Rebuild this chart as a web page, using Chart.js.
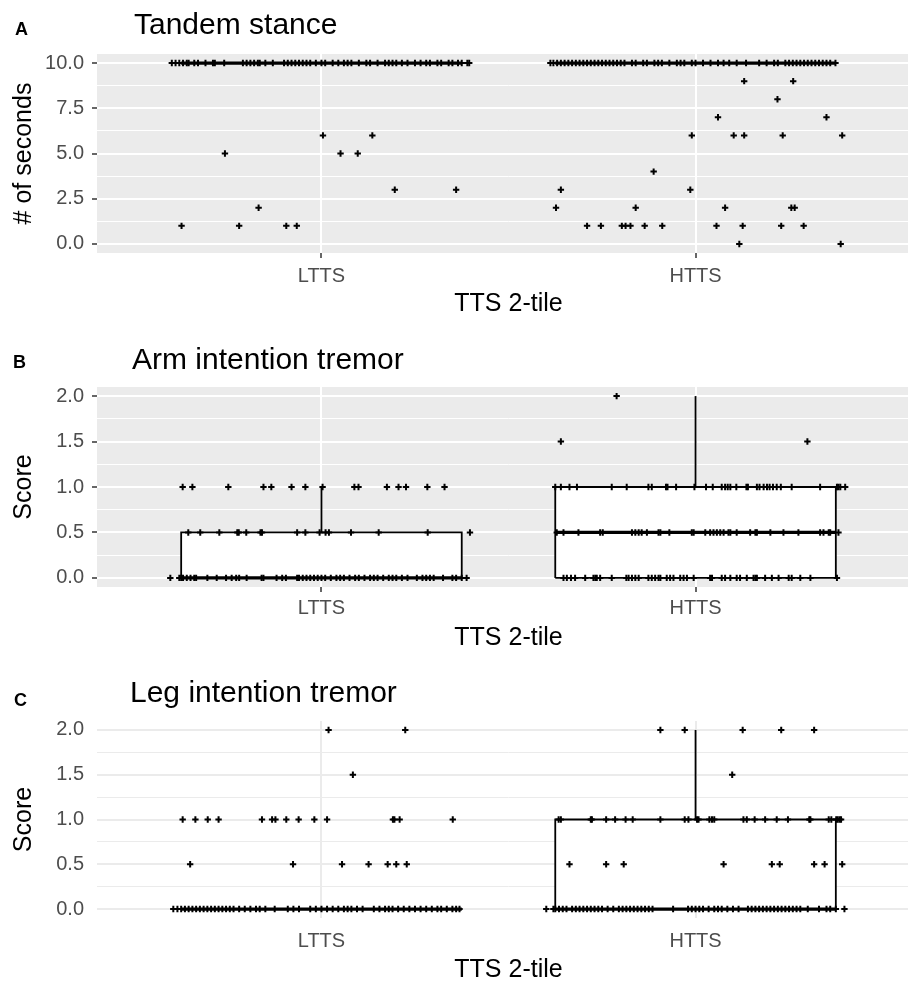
<!DOCTYPE html>
<html>
<head>
<meta charset="utf-8">
<script src="https://cdn.jsdelivr.net/npm/chart.js@4.4.1/dist/chart.umd.min.js"></script>
<style>
  html, body { margin: 0; padding: 0; background: #fff; overflow: hidden; width: 908px; height: 984px; }
  .panel { position: absolute; left: 0; }
</style>
</head>
<body>
<canvas id="chartA" class="panel" style="top:0px" width="930" height="318"></canvas>
<canvas id="chartB" class="panel" style="top:318px" width="930" height="334"></canvas>
<canvas id="chartC" class="panel" style="top:652px" width="930" height="332"></canvas>
<script>
const categories = ['LTTS', 'HTTS'];

const secondsTicks = [0, 2.5, 5, 7.5, 10];
const secondsMinor = [1.25, 3.75, 6.25, 8.75];
const scoreTicks = [0, 0.5, 1, 1.5, 2];
const scoreMinor = [0.25, 0.75, 1.25, 1.75];

// box stats per group: lower whisker, q1, median, q3, upper whisker
const tandemBoxes = [[10, 10, 10, 10, 10], [10, 10, 10, 10, 10]];
const armBoxes = [[0, 0, 0, 0.5, 1], [0, 0, 0.5, 1, 2]];
const legBoxes = [[0, 0, 0, 0, 0], [0, 0, 0, 1, 2]];

// each row: the jitter offsets of the points sitting at that value
const tandemValues = [10, 9, 8, 7, 6, 5, 4, 3, 2, 1, 0];
const tandemLttsJitter = [
  [-0.40, -0.39, -0.38, -0.37, -0.36, -0.355, -0.34, -0.33, -0.31, -0.29, -0.285, -0.26, -0.21, -0.20, -0.19, -0.18, -0.17, -0.165, -0.15, -0.13, -0.10, -0.09, -0.08, -0.07, -0.06, -0.05, -0.04, -0.03, -0.015, 0.0, 0.01, 0.03, 0.045, 0.06, 0.07, 0.08, 0.10, 0.12, 0.13, 0.15, 0.17, 0.18, 0.19, 0.20, 0.215, 0.23, 0.25, 0.265, 0.28, 0.29, 0.31, 0.32, 0.34, 0.35, 0.365, 0.375, 0.39, 0.395],
  [], [], [],
  [0.004, 0.136],
  [-0.258, 0.051, 0.097],
  [],
  [0.196, 0.360],
  [-0.168],
  [-0.374, -0.220, -0.094, -0.066],
  []
];
const tandemHttsJitter = [
  [-0.388, -0.38, -0.37, -0.36, -0.35, -0.34, -0.33, -0.32, -0.31, -0.30, -0.29, -0.28, -0.27, -0.26, -0.25, -0.24, -0.23, -0.22, -0.21, -0.20, -0.19, -0.17, -0.16, -0.14, -0.13, -0.11, -0.10, -0.09, -0.07, -0.05, -0.04, -0.03, -0.01, 0.0, 0.02, 0.04, 0.06, 0.075, 0.09, 0.11, 0.135, 0.17, 0.19, 0.21, 0.22, 0.24, 0.25, 0.26, 0.27, 0.28, 0.29, 0.30, 0.31, 0.32, 0.33, 0.34, 0.35, 0.36, 0.374],
  [0.130, 0.261],
  [0.219],
  [0.060, 0.350],
  [-0.010, 0.102, 0.130, 0.233, 0.392],
  [],
  [-0.112],
  [-0.360, -0.014],
  [-0.373, -0.160, 0.079, 0.256, 0.265],
  [-0.290, -0.253, -0.197, -0.187, -0.174, -0.136, -0.089, 0.056, 0.126, 0.229, 0.289],
  [0.117, 0.388]
];

const scoreValues = [2, 1.5, 1, 0.5, 0];
const armLttsJitter = [
  [],
  [],
  [-0.371, -0.345, -0.249, -0.155, -0.134, -0.080, -0.043, 0.003, 0.088, 0.099, 0.175, 0.206, 0.226, 0.283, 0.329],
  [-0.356, -0.324, -0.273, -0.225, -0.221, -0.201, -0.163, -0.159, -0.065, -0.043, -0.005, 0.011, 0.020, 0.079, 0.153, 0.284, 0.397],
  [-0.404, -0.38, -0.375, -0.37, -0.36, -0.35, -0.34, -0.335, -0.305, -0.28, -0.255, -0.24, -0.228, -0.22, -0.20, -0.16, -0.155, -0.12, -0.105, -0.095, -0.065, -0.06, -0.05, -0.04, -0.03, -0.02, -0.01, 0.0, 0.01, 0.025, 0.04, 0.05, 0.06, 0.075, 0.09, 0.10, 0.115, 0.13, 0.14, 0.15, 0.165, 0.18, 0.19, 0.20, 0.215, 0.23, 0.255, 0.27, 0.28, 0.29, 0.30, 0.325, 0.35, 0.36, 0.375, 0.388]
];
const armHttsJitter = [
  [-0.211],
  [-0.360, 0.299],
  [-0.375, -0.360, -0.337, -0.317, -0.224, -0.184, -0.126, -0.117, -0.079, -0.075, -0.052, -0.003, 0.028, 0.046, 0.070, 0.079, 0.086, 0.093, 0.109, 0.136, 0.140, 0.164, 0.171, 0.182, 0.191, 0.198, 0.207, 0.217, 0.228, 0.257, 0.333, 0.378, 0.382, 0.387, 0.400],
  [-0.371, -0.353, -0.313, -0.255, -0.248, -0.170, -0.161, -0.152, -0.144, -0.130, -0.099, -0.094, -0.070, -0.010, -0.005, 0.026, 0.039, 0.048, 0.057, 0.066, 0.075, 0.088, 0.093, 0.110, 0.146, 0.160, 0.164, 0.200, 0.235, 0.275, 0.333, 0.342, 0.356, 0.360, 0.382],
  [-0.353, -0.344, -0.333, -0.322, -0.295, -0.273, -0.268, -0.264, -0.255, -0.224, -0.185, -0.179, -0.170, -0.161, -0.152, -0.126, -0.117, -0.108, -0.099, -0.094, -0.077, -0.068, -0.059, -0.041, -0.032, -0.023, -0.005, 0.039, 0.044, 0.070, 0.079, 0.093, 0.110, 0.119, 0.137, 0.155, 0.160, 0.164, 0.186, 0.204, 0.222, 0.249, 0.257, 0.280, 0.307, 0.378]
];

const legLttsJitter = [
  [0.019, 0.224],
  [0.084],
  [-0.371, -0.337, -0.304, -0.275, -0.159, -0.132, -0.123, -0.094, -0.061, -0.019, 0.015, 0.191, 0.195, 0.209, 0.351],
  [-0.351, -0.076, 0.055, 0.126, 0.177, 0.200, 0.228],
  [-0.396, -0.385, -0.375, -0.365, -0.355, -0.345, -0.335, -0.325, -0.315, -0.305, -0.295, -0.285, -0.275, -0.265, -0.255, -0.245, -0.235, -0.22, -0.205, -0.19, -0.175, -0.165, -0.15, -0.125, -0.09, -0.075, -0.06, -0.03, -0.015, 0.0, 0.015, 0.03, 0.045, 0.06, 0.07, 0.08, 0.095, 0.11, 0.14, 0.155, 0.17, 0.18, 0.19, 0.205, 0.22, 0.235, 0.25, 0.265, 0.28, 0.295, 0.31, 0.32, 0.335, 0.35, 0.36, 0.369]
];
const legHttsJitter = [
  [-0.094, -0.029, 0.126, 0.229, 0.317],
  [0.098],
  [-0.366, -0.360, -0.280, -0.277, -0.239, -0.215, -0.187, -0.168, -0.094, -0.029, -0.019, 0.004, 0.008, 0.037, 0.044, 0.050, 0.128, 0.137, 0.158, 0.186, 0.217, 0.247, 0.304, 0.307, 0.356, 0.363, 0.376, 0.380, 0.385, 0.389],
  [-0.337, -0.239, -0.192, 0.075, 0.204, 0.225, 0.317, 0.345, 0.392],
  [-0.399, -0.38, -0.375, -0.365, -0.355, -0.345, -0.33, -0.32, -0.31, -0.30, -0.29, -0.28, -0.27, -0.26, -0.25, -0.235, -0.22, -0.205, -0.195, -0.185, -0.175, -0.165, -0.155, -0.145, -0.135, -0.125, -0.115, -0.06, -0.02, -0.01, 0.0, 0.01, 0.02, 0.035, 0.05, 0.06, 0.07, 0.085, 0.10, 0.115, 0.14, 0.15, 0.16, 0.17, 0.18, 0.19, 0.20, 0.21, 0.22, 0.23, 0.24, 0.25, 0.26, 0.27, 0.28, 0.30, 0.33, 0.35, 0.36, 0.375, 0.398]
];

const FONT = '"Liberation Sans", Arial, sans-serif';
Chart.defaults.font.family = FONT;
const boxHalf = 0.375;

const panelBackground = {
  id: 'panelBackground',
  beforeDraw(chart, args, opts) {
    if (!opts.color) return;
    const { ctx, chartArea: a } = chart;
    ctx.save();
    ctx.fillStyle = opts.color;
    ctx.fillRect(a.left, a.top, a.right - a.left, a.bottom - a.top);
    ctx.restore();
  }
};

const panelText = {
  id: 'panelText',
  afterDraw(chart, args, opts) {
    const ctx = chart.ctx;
    ctx.save();
    ctx.fillStyle = '#000';
    ctx.textBaseline = 'alphabetic';
    ctx.textAlign = 'left';
    ctx.font = 'bold 18px ' + FONT;
    ctx.fillText(opts.letter, opts.letterX, opts.letterY);
    ctx.font = '30px ' + FONT;
    ctx.fillText(opts.title, opts.titleX, opts.titleY);
    ctx.restore();
  }
};

const pointsFor = (values, jitter, center) => {
  const data = [];
  values.forEach((v, i) => {
    jitter[i].forEach(j => data.push({ x: center + j, y: v }));
  });
  return {
    type: 'scatter',
    data: data,
    pointStyle: 'cross',
    pointRadius: 3.2,
    borderColor: '#000',
    backgroundColor: '#000',
    borderWidth: 2,
    order: 0
  };
};

const segment = (data, width, order, fill) => ({
  type: 'line',
  data: data,
  borderColor: '#000',
  borderWidth: width,
  backgroundColor: '#fff',
  fill: fill || false,
  pointRadius: 0,
  tension: 0,
  order: order
});

const boxDatasets = (boxes) => {
  const out = [];
  boxes.forEach((b, i) => {
    const c = i + 1;
    const [lo, q1, med, q3, hi] = b;
    out.push(segment([
      { x: c - boxHalf, y: q1 }, { x: c + boxHalf, y: q1 },
      { x: c + boxHalf, y: q3 }, { x: c - boxHalf, y: q3 },
      { x: c - boxHalf, y: q1 }
    ], 1.8, 3, 'shape'));
    out.push(segment([{ x: c, y: q3 }, { x: c, y: hi }], 1.8, 2));
    out.push(segment([{ x: c, y: lo }, { x: c, y: q1 }], 1.8, 2));
    out.push(segment([{ x: c - boxHalf, y: med }, { x: c + boxHalf, y: med }], 3.2, 1));
  });
  return out;
};

const makePanel = (id, p) => {
  const grey = p.grey;
  const gridColor = grey ? '#ffffff' : '#ebebeb';
  const allTicks = p.major.concat(p.minor).sort((a, b) => a - b);
  const isMajor = v => p.major.includes(v);

  const datasets = [
    pointsFor(p.values, p.lttsJitter, 1),
    pointsFor(p.values, p.httsJitter, 2)
  ].concat(boxDatasets(p.boxes));

  return new Chart(document.getElementById(id), {
    type: 'scatter',
    data: { datasets: datasets },
    options: {
      responsive: false,
      animation: false,
      events: [],
      layout: { padding: { top: p.top, left: 0, right: 10, bottom: 0 } },
      plugins: {
        legend: { display: false },
        tooltip: { enabled: false },
        panelBackground: { color: grey ? '#ebebeb' : null },
        panelText: {
          letter: p.letter, letterX: p.letterX, letterY: p.letterY,
          title: p.title, titleX: p.titleX, titleY: p.titleY
        }
      },
      scales: {
        x: {
          type: 'linear',
          min: 0.4,
          max: 2.6,
          afterBuildTicks: axis => { axis.ticks = [1, 2].map(v => ({ value: v })); },
          afterFit: axis => { axis.height = p.xHeight; },
          border: { display: false },
          grid: {
            color: gridColor,
            lineWidth: 2,
            drawTicks: grey,
            tickLength: 5,
            tickColor: '#333333',
            tickWidth: 1.5
          },
          ticks: {
            callback: v => categories[v - 1],
            color: '#4d4d4d',
            font: { size: 20 },
            padding: p.xPad,
            maxRotation: 0,
            autoSkip: false
          },
          title: {
            display: true,
            text: 'TTS 2-tile',
            color: '#000',
            font: { size: 25, lineHeight: 1 },
            padding: { top: 0, bottom: 1 }
          }
        },
        y: {
          min: p.yMin,
          max: p.yMax,
          afterBuildTicks: axis => { axis.ticks = allTicks.map(v => ({ value: v })); },
          afterFit: axis => { axis.width = 97; },
          border: { display: false },
          grid: {
            color: gridColor,
            lineWidth: ctx => isMajor(ctx.tick.value) ? 2 : 1,
            drawTicks: grey,
            tickLength: 5,
            tickColor: ctx => isMajor(ctx.tick.value) ? '#333333' : 'rgba(0,0,0,0)',
            tickWidth: 1.5
          },
          ticks: {
            callback: v => isMajor(v) ? v.toFixed(1) : '',
            color: '#4d4d4d',
            font: { size: 20 },
            padding: grey ? 8 : 13,
            autoSkip: false
          },
          title: {
            display: true,
            text: p.yTitle,
            color: '#000',
            font: { size: 25, lineHeight: 1 },
            padding: { top: 12, bottom: 0 }
          }
        }
      }
    },
    plugins: [panelBackground, panelText]
  });
};

makePanel('chartA', {
  letter: 'A', letterX: 15, letterY: 35,
  title: 'Tandem stance', titleX: 134, titleY: 34,
  grey: true, top: 54, xHeight: 65, xPad: 6,
  yMin: -0.5, yMax: 10.5, major: secondsTicks, minor: secondsMinor,
  yTitle: '# of seconds',
  values: tandemValues, lttsJitter: tandemLttsJitter, httsJitter: tandemHttsJitter,
  boxes: tandemBoxes
});

makePanel('chartB', {
  letter: 'B', letterX: 13, letterY: 50,
  title: 'Arm intention tremor', titleX: 132, titleY: 51,
  grey: true, top: 69, xHeight: 65, xPad: 4.5,
  yMin: -0.1, yMax: 2.1, major: scoreTicks, minor: scoreMinor,
  yTitle: 'Score',
  values: scoreValues, lttsJitter: armLttsJitter, httsJitter: armHttsJitter,
  boxes: armBoxes
});

makePanel('chartC', {
  letter: 'C', letterX: 14, letterY: 54,
  title: 'Leg intention tremor', titleX: 130, titleY: 50,
  grey: false, top: 69, xHeight: 66, xPad: 11,
  yMin: -0.1, yMax: 2.1, major: scoreTicks, minor: scoreMinor,
  yTitle: 'Score',
  values: scoreValues, lttsJitter: legLttsJitter, httsJitter: legHttsJitter,
  boxes: legBoxes
});
</script>
</body>
</html>
